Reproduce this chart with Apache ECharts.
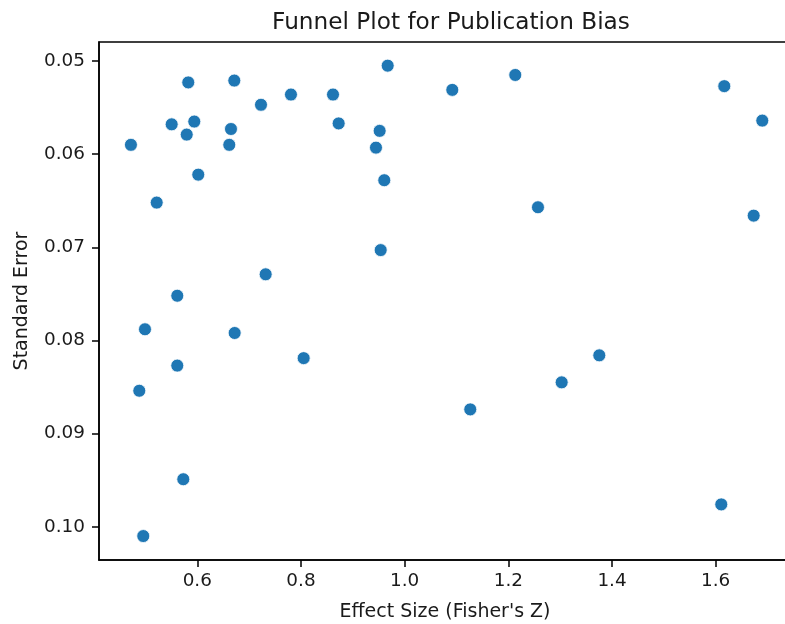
<!DOCTYPE html>
<html>
<head>
<meta charset="utf-8">
<script src="https://cdn.jsdelivr.net/npm/echarts@6/dist/echarts.min.js"></script>
<style>html,body{margin:0;padding:0;background:#fff}#c{width:785px;height:624px}</style>
</head>
<body>
<div id="c"></div>
<script>
const effectSize = [0.472,0.5217,0.5506,0.5796,0.5826,0.5942,0.6019,0.665,0.6617,0.6714,0.7229,0.7807,0.8618,0.8727,0.9518,0.9447,0.9607,0.9673,1.0919,1.2134,1.2572,1.6166,1.6899,1.6733,0.9538,0.7319,0.5614,0.4991,0.6721,0.8052,0.5614,0.4881,1.3755,1.3029,1.1266,0.573,0.4958,1.6108];
const stdError = [0.0590,0.0652,0.0568,0.0579,0.0523,0.0565,0.0622,0.0573,0.0590,0.0521,0.0547,0.0536,0.0536,0.0567,0.0575,0.0593,0.0628,0.0505,0.0531,0.0515,0.0657,0.0527,0.0564,0.0666,0.0703,0.0729,0.0752,0.0788,0.0792,0.0819,0.0827,0.0854,0.0816,0.0845,0.0874,0.0949,0.1010,0.0976];
const xTicks = [0.6,0.8,1.0,1.2,1.4,1.6];
const yTicks = [0.05,0.06,0.07,0.08,0.09,0.10];

const chart = echarts.init(document.getElementById('c'), null, {renderer:'canvas'});
const font = 'DejaVu Sans';
chart.setOption({
  animation:false,
  backgroundColor:'#fff',
  title:{text:'Funnel Plot for Publication Bias',left:446,top:6,textAlign:'center',
    textStyle:{fontFamily:font,fontSize:23.2,fontWeight:'normal',color:'#1a1a1a'}},
  grid:{left:99,top:42,right:-6,bottom:64,show:true,borderColor:'#000',borderWidth:1.5,
    containLabel:false,outerBoundsMode:'none'},
  xAxis:{type:'value',min:0.4104,max:1.7453,
    name:"Effect Size (Fisher's Z)",nameLocation:'middle',nameGap:43,
    nameTextStyle:{fontFamily:font,fontSize:19,color:'#1a1a1a'},
    axisLine:{show:true,onZero:false,lineStyle:{color:'#000',width:1.5}},
    axisTick:{show:true,customValues:xTicks,length:7,lineStyle:{color:'#000',width:1.5}},
    axisLabel:{customValues:xTicks,margin:12,fontFamily:font,fontSize:18.4,color:'#1a1a1a',formatter:v=>v.toFixed(1)},
    splitLine:{show:false}},
  yAxis:{type:'value',inverse:true,min:0.04796,max:0.10357,
    name:'Standard Error',nameLocation:'middle',nameGap:67,nameRotate:90,
    nameTextStyle:{fontFamily:font,fontSize:19,color:'#1a1a1a'},
    axisLine:{show:true,onZero:false,lineStyle:{color:'#000',width:1.5}},
    axisTick:{show:true,customValues:yTicks,length:7,lineStyle:{color:'#000',width:1.5}},
    axisLabel:{customValues:yTicks,margin:14,fontFamily:font,fontSize:18.4,color:'#1a1a1a',formatter:v=>v.toFixed(2)},
    splitLine:{show:false}},
  series:[{type:'scatter',data:effectSize.map((x,i)=>[x,stdError[i]]),
    symbolSize:13,itemStyle:{color:'#1f77b4',borderColor:'#fff',borderWidth:0.8,opacity:1}}]
});
</script>
</body>
</html>
